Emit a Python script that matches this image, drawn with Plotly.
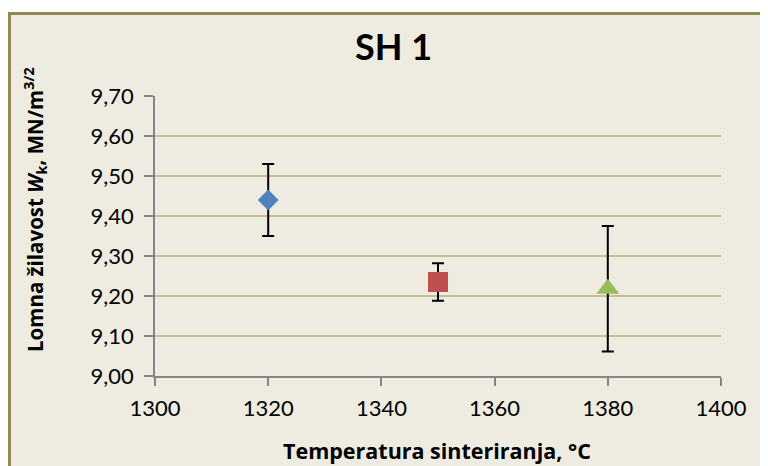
import plotly.graph_objects as go

# Data
temperatures = [1320, 1350, 1380]
toughness = [9.44, 9.235, 9.218]
toughness_err = [0.09, 0.047, 0.157]
marker_symbols = ["diamond", "square", "triangle-up"]
marker_colors = ["#4F81BD", "#C0504D", "#9BBB59"]
marker_sizes = [16, 20, 20]
y_ticks = [9.0, 9.1, 9.2, 9.3, 9.4, 9.5, 9.6, 9.7]
x_ticks = [1300, 1320, 1340, 1360, 1380, 1400]

W, H = 768, 466
OFF = 8  # page body margin offset
# plot area in screen pixels: x 155..721, y 96..376
ml, mt = 155 - OFF, 96 - OFF
pw, ph = 566, 280
mr, mb = W - ml - pw, H - mt - ph

def px_x(px):
    return (px - OFF - ml) / pw

def px_y(py):
    return (mt + ph - (py - OFF)) / ph

fig = go.Figure()
for t, v, e, s, c, sz in zip(temperatures, toughness, toughness_err,
                              marker_symbols, marker_colors, marker_sizes):
    fig.add_trace(go.Scatter(
        x=[t], y=[v], mode="markers",
        marker=dict(symbol=s, color=c, size=sz, line=dict(width=0)),
        error_y=dict(type="data", array=[e], visible=True,
                     color="black", thickness=2, width=6),
        showlegend=False, cliponaxis=False,
    ))

FONT = "Lato"
TFONT = "Open Sans"
fig.update_layout(
    width=W, height=H,
    margin=dict(l=ml, r=mr, t=mt, b=mb),
    paper_bgcolor="white",
    plot_bgcolor="#EEECE1",
    separators=",.",
    font=dict(family=FONT, color="black"),
    xaxis=dict(
        range=[1300, 1400], tickvals=x_ticks, showgrid=False, zeroline=False,
        showline=True, linecolor="#868686", linewidth=1.5,
        ticks="outside", ticklen=8, tickcolor="#868686", tickwidth=1.5,
        tickfont=dict(size=22, family=FONT, color="black"),
        ticklabelstandoff=4,
    ),
    yaxis=dict(
        range=[9.0, 9.7], tickvals=y_ticks, tickformat=".2f",
        showgrid=True, gridcolor="#C4BD97", gridwidth=1.5, zeroline=False,
        showline=True, linecolor="#868686", linewidth=1.5,
        ticks="outside", ticklen=9, tickcolor="#868686", tickwidth=1.5,
        tickfont=dict(size=22, family=FONT, color="black"),
        ticklabelstandoff=6,
    ),
    shapes=[dict(
        type="rect", xref="paper", yref="paper", layer="below",
        x0=px_x(9.5), x1=px_x(800), y0=px_y(500), y1=px_y(13.5),
        line=dict(color="#938953", width=3), fillcolor="#EEECE1",
    )],
    annotations=[
        dict(text="<b>SH 1</b>", xref="paper", yref="paper",
             x=px_x(393), y=px_y(46), xanchor="center", yanchor="middle",
             showarrow=False, font=dict(size=36, family=FONT, color="black")),
        dict(text="<b>Temperatura sinteriranja, °C</b>", xref="paper", yref="paper",
             x=px_x(437), y=px_y(450), xanchor="center", yanchor="middle",
             showarrow=False, font=dict(size=21.5, family=TFONT, color="black")),
        dict(text="<b>Lomna žilavost <i>W</i><sub>k</sub>, MN/m<sup>3/2</sup></b>",
             xref="paper", yref="paper", textangle=-90,
             x=px_x(35), y=px_y(210), xanchor="center", yanchor="middle",
             showarrow=False, font=dict(size=20.5, family=TFONT, color="black")),
    ],
)

fig.write_html("out.html")
